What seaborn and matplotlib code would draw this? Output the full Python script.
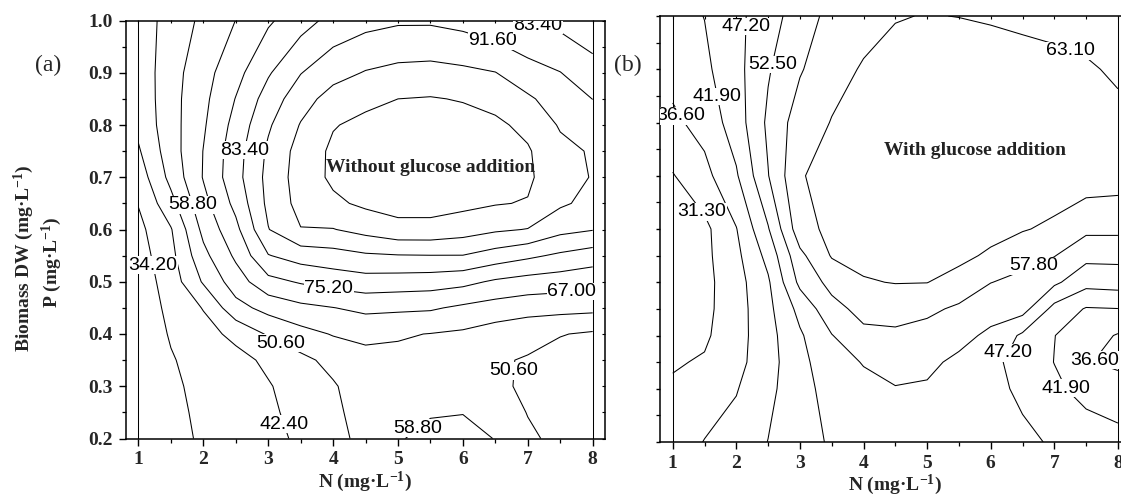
import numpy as np
import matplotlib.pyplot as plt
from matplotlib.ticker import MultipleLocator, FormatStrFormatter
import seaborn as sns

sns.set_theme(style="white", context="paper")
plt.rcParams["font.family"] = ["Liberation Serif", "DejaVu Serif"]
plt.rcParams["mathtext.fontset"] = "custom"
plt.rcParams["mathtext.rm"] = "Liberation Serif:bold"
plt.rcParams["mathtext.bf"] = "Liberation Serif:bold"
plt.rcParams["mathtext.it"] = "Liberation Serif:italic:bold"
plt.rcParams["axes.edgecolor"] = "black"
plt.rcParams["axes.linewidth"] = 1.1

# grid of the response surfaces (N along x, P along y)
n_conc = [1.0, 1.5, 2.0, 2.5, 3.0, 3.5, 4.0, 4.5, 5.0, 5.5, 6.0, 6.5, 7.0, 7.5, 8.0]
p_conc_a = [0.2, 0.25, 0.3, 0.35, 0.4, 0.45, 0.5, 0.55, 0.6, 0.65, 0.7, 0.75, 0.8, 0.85, 0.9, 1.0]
p_conc_b = [0.2, 0.3, 0.35, 0.4, 0.45, 0.5, 0.55, 0.6, 0.7, 0.8, 0.9, 1.0]

# biomass DW without glucose, one column per N value (bottom -> top in P)
dw_no_glc = [
    [26.0, 26.5, 27.0, 27.5, 28.0, 28.5, 29.5, 30.5, 32.0, 34.6, 38.0, 41.5, 44.5, 45.0, 45.5, 46.0],
    [31.0, 31.7, 32.5, 33.5, 35.0, 36.5, 38.0, 40.0, 41.8, 48.0, 53.0, 55.0, 55.5, 55.8, 55.5, 54.0],
    [35.6, 36.2, 36.8, 37.8, 39.5, 42.8, 51.5, 56.5, 61.0, 64.5, 67.5, 67.2, 66.0, 65.0, 64.0, 60.5],
    [37.5, 38.2, 39.0, 39.8, 44.5, 56.0, 63.0, 68.5, 73.0, 77.5, 80.5, 80.0, 78.0, 75.5, 72.5, 67.1],
    [40.5, 41.1, 41.8, 44.0, 51.5, 61.5, 72.7, 83.0, 91.3, 93.5, 94.0, 93.0, 90.5, 87.0, 82.5, 74.0],
    [43.5, 44.7, 46.0, 48.5, 56.0, 65.0, 76.0, 87.0, 99.5, 102.5, 103.5, 103.0, 100.3, 96.5, 91.3, 80.0],
    [48.0, 48.9, 49.8, 53.0, 59.3, 66.8, 78.5, 88.5, 99.5, 106.5, 109.5, 109.5, 107.5, 103.0, 97.0, 86.0],
    [53.0, 54.0, 55.0, 56.5, 60.5, 69.0, 80.0, 90.5, 102.5, 109.5, 112.0, 112.0, 110.0, 106.0, 100.3, 89.0],
    [58.3, 57.3, 56.5, 57.0, 59.5, 68.5, 79.5, 91.2, 105.5, 111.0, 114.0, 113.5, 111.5, 108.0, 102.0, 90.5],
    [60.5, 58.3, 56.0, 56.5, 58.6, 68.0, 79.0, 91.4, 105.5, 111.0, 114.0, 114.0, 112.0, 108.5, 102.5, 90.5],
    [61.0, 58.6, 55.5, 56.0, 57.5, 65.5, 77.5, 91.4, 103.5, 110.0, 113.0, 113.0, 111.0, 107.5, 101.5, 89.0],
    [58.6, 55.5, 52.5, 51.5, 55.0, 63.5, 74.0, 88.0, 101.0, 108.5, 111.0, 111.5, 109.5, 105.5, 100.0, 86.0],
    [52.0, 50.3, 49.0, 50.0, 53.0, 62.0, 72.0, 85.0, 99.5, 107.5, 109.5, 108.8, 106.0, 101.0, 95.0, 83.0],
    [48.5, 47.0, 45.5, 47.5, 51.0, 61.5, 71.0, 82.0, 94.0, 101.0, 102.0, 102.0, 99.0, 96.0, 91.8, 81.0],
    [47.0, 45.5, 44.0, 46.0, 49.5, 61.0, 69.5, 79.5, 92.0, 97.5, 99.5, 99.0, 96.0, 91.5, 86.5, 78.0],
]

# biomass DW with glucose
dw_glc = [
    [33.5, 32.0, 30.8, 30.0, 29.5, 29.3, 29.5, 30.0, 31.0, 35.5, 38.5, 40.0],
    [36.8, 33.5, 31.8, 30.5, 30.0, 29.8, 30.0, 30.0, 35.0, 38.5, 40.8, 42.0],
    [38.5, 36.3, 35.0, 34.5, 34.3, 34.5, 35.3, 36.4, 41.3, 44.5, 45.5, 45.8],
    [42.0, 40.5, 39.8, 40.0, 40.5, 41.2, 43.5, 46.8, 52.3, 53.5, 52.0, 50.3],
    [45.2, 45.5, 45.8, 46.5, 48.8, 53.8, 56.5, 61.0, 62.8, 60.5, 57.3, 55.0],
    [47.8, 49.0, 50.2, 52.3, 56.0, 59.5, 63.5, 64.5, 64.5, 63.3, 61.5, 59.5],
    [49.0, 51.0, 52.8, 56.5, 59.5, 62.7, 64.5, 65.0, 65.5, 65.0, 63.5, 61.5],
    [50.0, 52.3, 54.0, 57.0, 59.5, 63.3, 64.5, 65.5, 66.5, 66.5, 65.0, 62.8],
    [50.8, 52.0, 53.5, 56.0, 58.8, 63.2, 65.0, 66.0, 67.0, 67.5, 66.0, 63.3],
    [51.0, 50.5, 51.5, 54.0, 57.0, 61.0, 64.5, 66.0, 67.5, 68.0, 66.5, 63.0],
    [50.5, 49.0, 48.3, 51.5, 54.5, 57.9, 62.2, 65.0, 67.5, 68.0, 66.0, 62.5],
    [48.5, 46.0, 45.5, 46.3, 54.5, 56.5, 59.5, 63.5, 67.0, 67.5, 65.5, 61.8],
    [46.5, 43.0, 41.8, 42.0, 45.5, 53.5, 58.0, 62.0, 66.5, 67.0, 65.0, 61.0],
    [45.0, 40.0, 36.9, 39.0, 41.5, 49.0, 54.0, 59.0, 66.0, 66.5, 64.0, 60.0],
    [43.5, 39.0, 35.5, 36.2, 41.8, 49.5, 54.0, 59.0, 65.5, 65.0, 62.0, 59.0],
]

levels_no_glc = [34.2, 42.4, 50.6, 58.8, 67.0, 75.2, 83.4, 91.6, 99.8, 108.0]
levels_glc = [31.3, 36.6, 41.9, 47.2, 52.5, 57.8, 63.1]

x_ticks = [1, 2, 3, 4, 5, 6, 7, 8]
y_ticks = [0.2, 0.3, 0.4, 0.5, 0.6, 0.7, 0.8, 0.9, 1.0]

# where the contour values are written on each panel
labels_at_a = [(6.47, 0.965), (7.14, 0.985), (2.62, 0.752), (1.82, 0.647),
               (1.23, 0.532), (3.92, 0.478), (7.67, 0.484), (3.22, 0.39),
               (3.3, 0.23), (5.34, 0.215), (6.77, 0.33)]
labels_at_b = [(2.2, 0.98), (2.6, 0.908), (1.66, 0.848), (1.15, 0.815),
               (1.46, 0.632), (7.21, 0.923), (6.65, 0.54), (6.25, 0.369),
               (7.62, 0.355), (7.21, 0.303)]

W, H = 1121, 500
fig = plt.figure(figsize=(W / 100, H / 100), dpi=100)


def px_axes(left, top, right, bottom):
    return fig.add_axes([left / W, 1 - bottom / H, (right - left) / W, (bottom - top) / H])


def draw_panel(ax, p_conc, z_cols, levels, label_pos, ylabels):
    z = np.array(z_cols).T
    ax.set_xlim(0.8, 8.19)
    ax.set_ylim(0.2, 1.0)
    cs = ax.contour(n_conc, p_conc, z, levels=levels, colors="black", linewidths=0.75)
    ax.vlines([n_conc[0], n_conc[-1]], p_conc[0], p_conc[-1], colors="black", linewidth=0.75)
    with plt.rc_context({"font.family": ["Liberation Sans", "DejaVu Sans"]}):
        texts = ax.clabel(cs, fmt="%.2f", manual=label_pos, inline=False, fontsize=14)
    for t in texts:
        t.set_rotation(0)
        t.set_color("black")
        t.set_bbox(dict(boxstyle="square,pad=0.02", fc="white", ec="none"))

    ax.set_xticks(x_ticks)
    ax.xaxis.set_minor_locator(MultipleLocator(0.5))
    ax.set_yticks(y_ticks)
    ax.yaxis.set_minor_locator(MultipleLocator(0.05))
    ax.yaxis.set_major_formatter(FormatStrFormatter("%.1f"))
    ax.tick_params(which="major", direction="out", length=5, width=1.0,
                   labelsize=14, pad=4, color="black", bottom=True, left=True)
    ax.tick_params(which="minor", direction="out", length=3, width=0.9,
                   color="black", bottom=True, left=True)
    if not ylabels:
        ax.tick_params(axis="y", which="both", length=3, labelleft=False)
    for lab in ax.get_xticklabels() + ax.get_yticklabels():
        lab.set_fontweight("bold")
    ax.set_xlabel("N (mg·L$^{-1}$)", fontsize=14, fontweight="bold", labelpad=1)
    ax.grid(False)

    # small inward ticks along the top edge
    top = ax.secondary_xaxis("top")
    top.set_xticks(x_ticks)
    top.xaxis.set_minor_locator(MultipleLocator(0.5))
    top.tick_params(which="both", direction="in", length=2.5, width=0.8,
                    labeltop=False, color="black")
    for s in top.spines.values():
        s.set_visible(False)


ax_a = px_axes(125.5, 20.5, 605, 438.5)
ax_b = px_axes(660, 16, 1130, 442)

draw_panel(ax_a, p_conc_a, dw_no_glc, levels_no_glc, labels_at_a, True)
draw_panel(ax_b, p_conc_b, dw_glc, levels_glc, labels_at_b, False)

right = ax_a.secondary_yaxis("right")
right.set_yticks(y_ticks)
right.yaxis.set_minor_locator(MultipleLocator(0.05))
right.tick_params(which="both", direction="in", length=2.5, width=0.8,
                  labelright=False, color="black")
for s in right.spines.values():
    s.set_visible(False)

ax_a.text(5.51, 0.718, "Without glucose addition", ha="center", va="center",
          fontsize=14, fontweight="bold", color="#222222")
ax_b.text(5.75, 0.748, "With glucose addition", ha="center", va="center",
          fontsize=14, fontweight="bold", color="#222222")

fig.text(48 / W, 1 - 65 / H, "(a)", ha="center", va="center", fontsize=17)
fig.text(628 / W, 1 - 65 / H, "(b)", ha="center", va="center", fontsize=17)
fig.text(24 / W, 1 - 258 / H, "Biomass DW (mg·L$^{-1}$)", rotation=90,
         ha="center", va="center", fontsize=14, fontweight="bold")
fig.text(52 / W, 1 - 262 / H, "P (mg·L$^{-1}$)", rotation=90,
         ha="center", va="center", fontsize=14, fontweight="bold")

fig.savefig("out.png", dpi=100, facecolor="white")
